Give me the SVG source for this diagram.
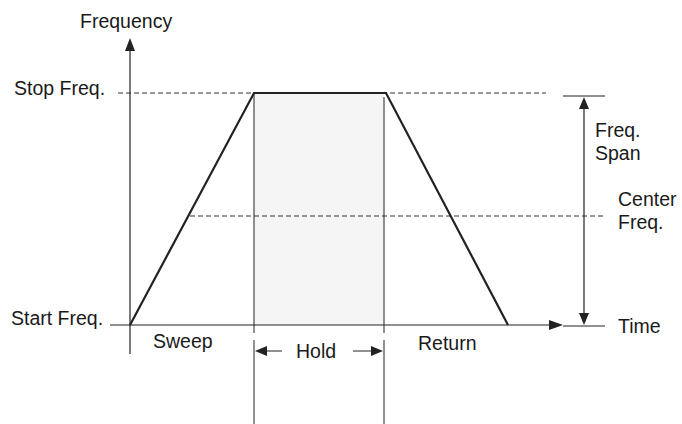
<svg xmlns="http://www.w3.org/2000/svg" width="682" height="424" viewBox="0 0 682 424">
<style>
text{font-family:"Liberation Sans",Arial,sans-serif;font-size:19.5px;fill:#1a1a1a}
.ax{stroke:#222;stroke-width:1.2;fill:none}
.dash{stroke:#333;stroke-width:1;stroke-dasharray:5 3;fill:none}
.trap{stroke:#222;stroke-width:2.2;fill:none;stroke-linejoin:miter}
.thin{stroke:#222;stroke-width:1;fill:none}
.ah{fill:#222}
</style>
<rect x="254" y="93" width="130" height="232" fill="#f5f5f5"/>
<g id="connectors">
<line class="dash" x1="118" y1="93" x2="546" y2="93"/>
<line class="dash" x1="190" y1="216" x2="604" y2="216"/>
<line class="ax" x1="130" y1="354" x2="130" y2="48"/>
<polygon class="ah" points="130,38 125,51 135,51"/>
<line class="ax" x1="110" y1="325" x2="550" y2="325"/>
<polygon class="ah" points="563,325 549,320 549,330"/>
<line class="thin" x1="563" y1="326" x2="605" y2="326"/>
<line class="thin" x1="563" y1="96" x2="605" y2="96"/>
<line class="ax" x1="584" y1="107" x2="584" y2="314"/>
<polygon class="ah" points="584,97 579,109 589,109"/>
<polygon class="ah" points="584,325 579,313 589,313"/>
<polyline class="trap" points="130,325 254,93 386,93 508,325"/>
<line class="thin" x1="254" y1="93" x2="254" y2="333"/>
<line class="thin" x1="254" y1="340" x2="254" y2="424"/>
<line class="thin" x1="384" y1="97" x2="384" y2="333"/>
<line class="thin" x1="384" y1="340" x2="384" y2="424"/>
<line class="thin" x1="266" y1="351" x2="282" y2="351"/>
<polygon class="ah" points="255,351 267,346 267,356"/>
<line class="thin" x1="353" y1="351" x2="372" y2="351"/>
<polygon class="ah" points="383,351 371,346 371,356"/>
</g>
<g id="labels">
<text x="80" y="28">Frequency</text>
<text x="14" y="95">Stop Freq.</text>
<text x="11" y="325">Start Freq.</text>
<text x="153" y="348">Sweep</text>
<text x="296" y="358">Hold</text>
<text x="418" y="350">Return</text>
<text x="618" y="333">Time</text>
<text x="595" y="137">Freq.</text>
<text x="595" y="160">Span</text>
<text x="618" y="206">Center</text>
<text x="618" y="229">Freq.</text>
</g>
</svg>
